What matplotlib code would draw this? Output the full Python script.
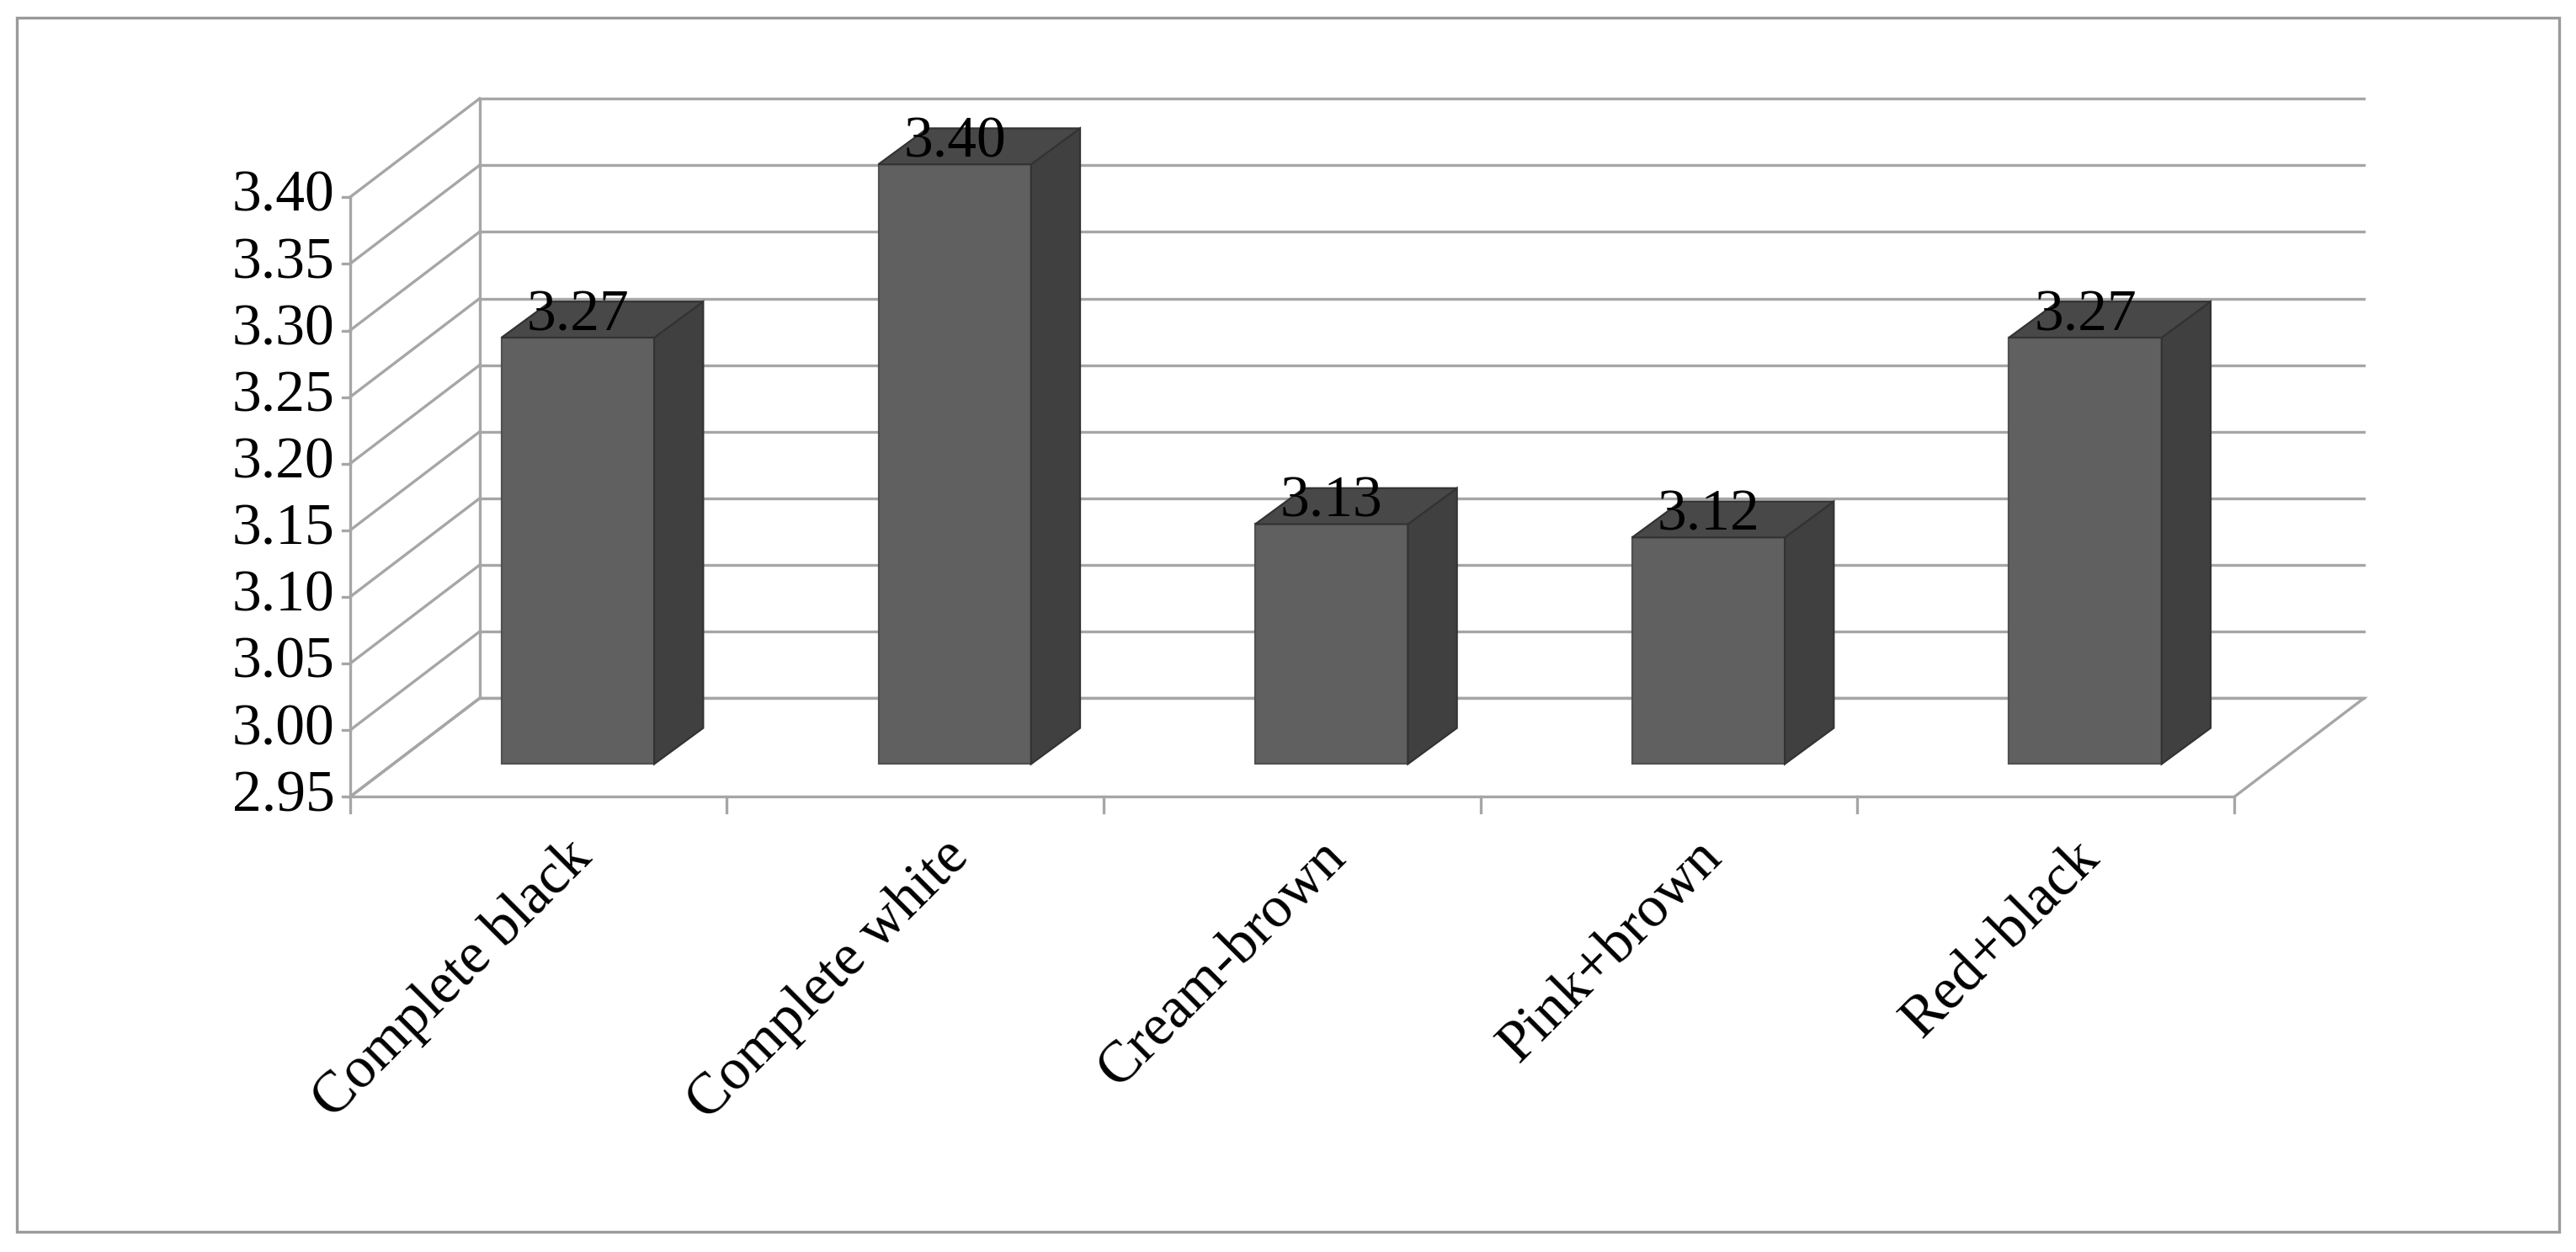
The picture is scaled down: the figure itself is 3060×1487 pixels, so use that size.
import matplotlib.pyplot as plt
from matplotlib.patches import Polygon, Rectangle

categories = ["Complete black", "Complete white", "Cream-brown", "Pink+brown", "Red+black"]
values = [3.27, 3.40, 3.13, 3.12, 3.27]
yticks = [2.95, 3.00, 3.05, 3.10, 3.15, 3.20, 3.25, 3.30, 3.35, 3.40]

plt.rcParams['font.family'] = ['Liberation Serif', 'DejaVu Serif']

fig = plt.figure(figsize=(15.3, 7.435), dpi=200)
ax = fig.add_axes([0, 0, 1, 1])
ax.set_xlim(-0.9285, 5.907)
ax.set_ylim(2.6085, 3.548)
ax.axis('off')

# outer border
fig.patches.append(Rectangle((0.0065, 0.016), 0.987, 0.97, transform=fig.transFigure,
                             fill=False, ec='#9a9a9a', lw=1.2))

n = len(categories)
base = yticks[0]
top = yticks[-1]
dx, dy = 0.344, 0.074      # depth of the back wall
sx, sy = 0.105, 0.0247     # bar placement inside the depth
bw = 0.405                 # bar width
bdx, bdy = 0.13, 0.027     # bar depth
grid = '#a6a6a6'

# floor
ax.add_patch(Polygon([(0, base), (n, base), (n + dx, base + dy), (dx, base + dy)],
                     closed=True, fc='white', ec=grid, lw=1.2, zorder=1))
# back wall gridlines and side wall diagonals
for v in yticks:
    ax.plot([dx, n + dx], [v + dy, v + dy], color=grid, lw=1.2, zorder=1)
    ax.plot([0, dx], [v, v + dy], color=grid, lw=1.2, zorder=1)
ax.plot([dx, dx], [base + dy, top + dy], color=grid, lw=1.2, zorder=1)
ax.plot([0, 0], [base, top], color=grid, lw=1.2, zorder=1)

# ticks
for v in yticks:
    ax.plot([-0.02, 0], [v, v], color=grid, lw=1.2)
    ax.text(-0.04, v, f"{v:.2f}", ha='right', va='center', fontsize=25)
for i in range(n + 1):
    ax.plot([i, i], [base, base - 0.012], color=grid, lw=1.2)

# bars
for i, (c, v) in enumerate(zip(categories, values)):
    x0 = i + 0.5 - bw / 2 + sx
    y0 = base + sy
    ax.add_patch(Rectangle((x0, y0), bw, v - base, fc='#606060', ec='#505050', lw=0.8, zorder=3))
    ax.add_patch(Polygon([(x0 + bw, y0), (x0 + bw + bdx, y0 + bdy), (x0 + bw + bdx, v + sy + bdy),
                          (x0 + bw, v + sy)], closed=True, fc='#404040', ec='#333333', lw=0.8, zorder=3))
    ax.add_patch(Polygon([(x0, v + sy), (x0 + bw, v + sy), (x0 + bw + bdx, v + sy + bdy),
                          (x0 + bdx, v + sy + bdy)], closed=True, fc='#484848', ec='#333333', lw=0.8, zorder=3))
    ax.text(x0 + bw / 2, v + sy - 0.004, f"{v:.2f}", ha='center', va='bottom', fontsize=25, zorder=4)
    ax.text(i + 0.57, base - 0.025, c, ha='right', va='top', rotation=45,
            rotation_mode='anchor', fontsize=25)

fig.savefig('out.png', dpi=200)
